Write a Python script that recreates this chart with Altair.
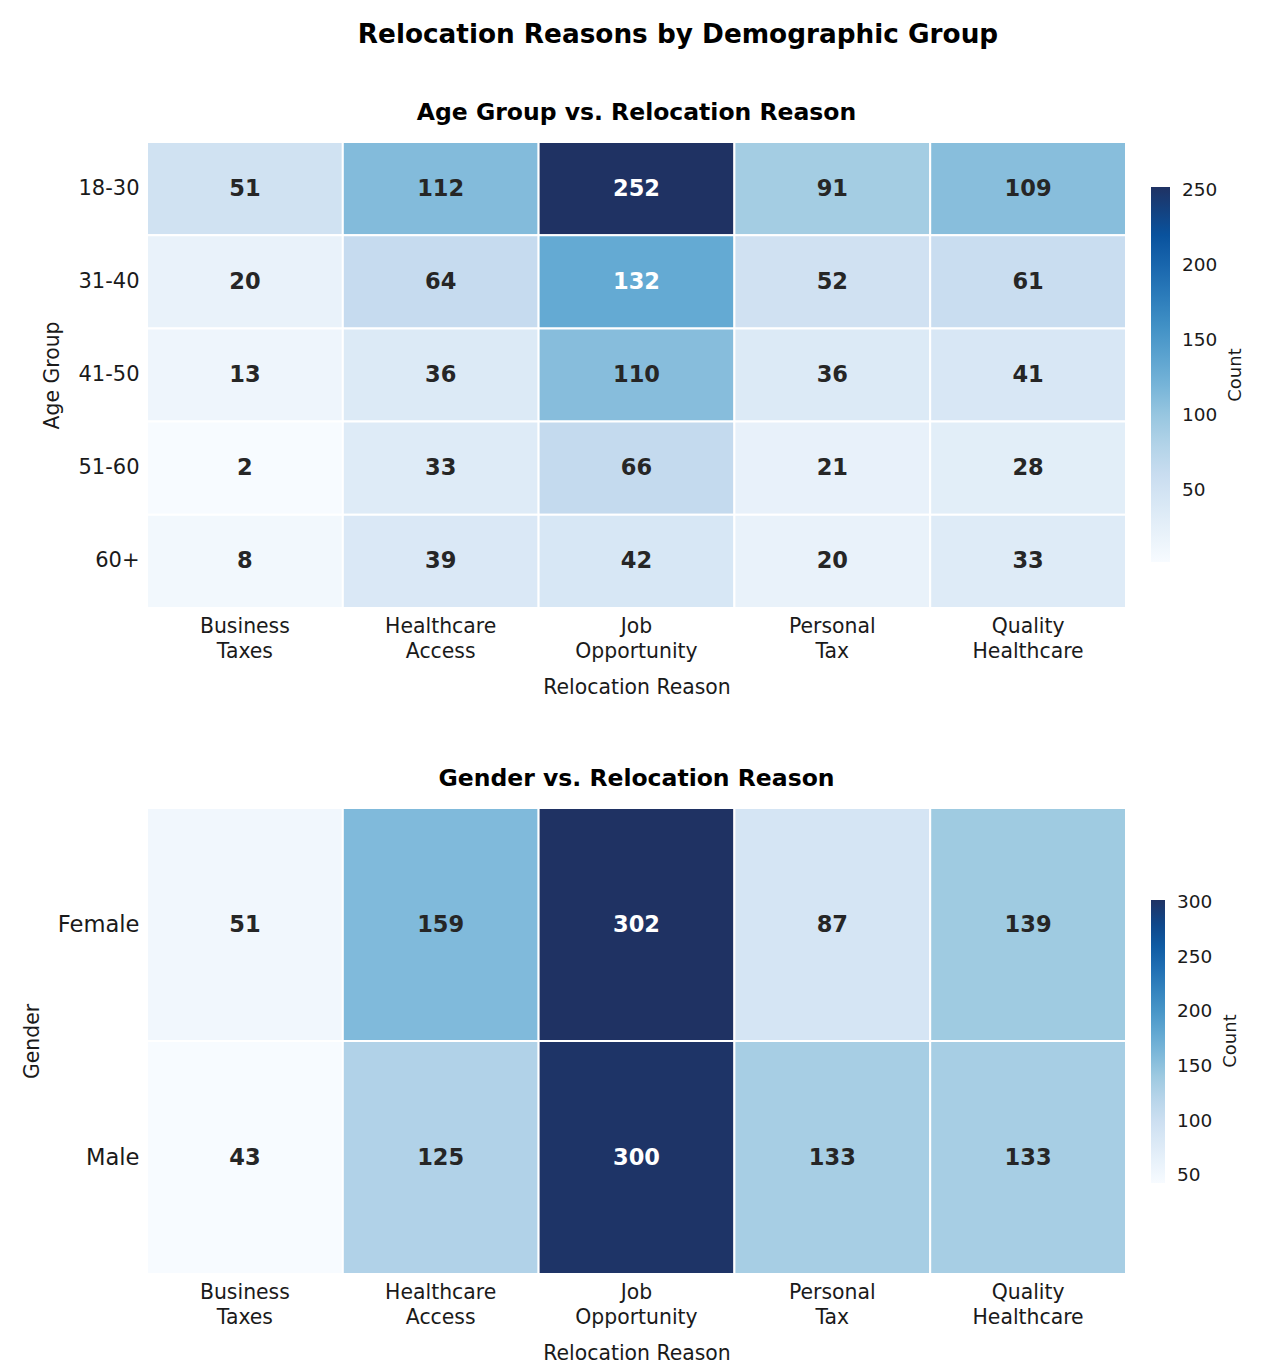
import altair as alt
import pandas as pd

# ---- data ----
reasons = ["Business Taxes", "Healthcare Access", "Job Opportunity", "Personal Tax", "Quality Healthcare"]
age_groups = ["18-30", "31-40", "41-50", "51-60", "60+"]
age_counts = [
    [51, 112, 252, 91, 109],
    [20, 64, 132, 52, 61],
    [13, 36, 110, 36, 41],
    [2, 33, 66, 21, 28],
    [8, 39, 42, 20, 33],
]
genders = ["Female", "Male"]
gender_counts = [
    [51, 159, 302, 87, 139],
    [43, 125, 300, 133, 133],
]
age_ticks = [50, 100, 150, 200, 250]
gender_ticks = [50, 100, 150, 200, 250, 300]

# colormap (Blues-like, navy top)
STOPS = [0, 0.125, 0.25, 0.375, 0.5, 0.625, 0.75, 0.875, 1.0]
COLORS = ["#f7fbff", "#deebf7", "#c6dbef", "#9ecae1", "#6baed6",
          "#4292c6", "#2171b5", "#08519c", "#1f3263"]

FONT = "DejaVu Sans"
W, H = 979, 466


def to_long(rows, counts, field):
    recs = []
    for r, vals in zip(rows, counts):
        for reason, v in zip(reasons, vals):
            recs.append({field: r, "reason": reason, "count": v})
    return pd.DataFrame(recs)


def heatmap(df, field, rows, ytitle, title, ticks, thr, glen, gthick, gy, ytx, cx, ylab_size):
    vals = df["count"]
    vmin, vmax = float(vals.min()), float(vals.max())
    domain = [vmin + t * (vmax - vmin) for t in STOPS]
    x = alt.X("reason:N", sort=reasons, title="Relocation Reason",
              axis=alt.Axis(labelAngle=0, labelExpr="split(datum.label, ' ')",
                            labelLineHeight=25, labelPadding=8, titlePadding=16,
                            domain=False, ticks=False, labelFontSize=20.4,
                            titleFontSize=20.4, labelColor="#1a1a1a",
                            titleColor="#1a1a1a", titleFontWeight="normal"))
    y = alt.Y(f"{field}:N", sort=rows, title=ytitle,
              axis=alt.Axis(domain=False, ticks=False, labelPadding=8,
                            labelFontSize=ylab_size, titleFontSize=20.4,
                            labelColor="#1a1a1a", titleColor="#1a1a1a",
                            titleFontWeight="normal", titleX=ytx, titleY=H / 2,
                            titleAlign="center", titleBaseline="middle", titleAngle=-90))
    color = alt.Color(
        "count:Q",
        scale=alt.Scale(domain=domain, range=COLORS, interpolate="rgb"),
        legend=alt.Legend(orient="none", legendX=1004, legendY=gy, direction="vertical",
                          gradientLength=glen, gradientThickness=gthick, title=None,
                          values=ticks, labelFontSize=18.5, labelOffset=12,
                          labelColor="#1a1a1a", padding=0, gradientStrokeWidth=0,
                          format="d", labelFont=FONT),
    )
    base = alt.Chart(df)
    rect = base.mark_rect(stroke="white", strokeWidth=2).encode(x=x, y=y, color=color)
    txt = base.mark_text(fontSize=22.5, fontWeight="bold", font=FONT).encode(
        x=alt.X("reason:N", sort=reasons),
        y=alt.Y(f"{field}:N", sort=rows),
        text="count:Q",
        color=alt.when(alt.datum["count"] >= thr).then(alt.value("white")).otherwise(alt.value("#262626")),
    )
    cnt = alt.Chart(pd.DataFrame({"t": ["Count"]})).mark_text(
        angle=270, fontSize=18, font=FONT, color="#1a1a1a", baseline="middle", align="center"
    ).encode(x=alt.value(cx), y=alt.value(H / 2), text="t:N")
    return alt.layer(rect, txt, cnt).properties(
        width=W, height=H,
        title=alt.TitleParams(title, fontSize=23.5, fontWeight="bold", font=FONT,
                              anchor="middle", frame="group", offset=17, color="black"),
    )


age_df = to_long(age_groups, age_counts, "age")
gen_df = to_long(genders, gender_counts, "gender")

top = heatmap(age_df, "age", age_groups, "Age Group", "Age Group vs. Relocation Reason",
              age_ticks, 120, 375, 19, 45, -95, 1089, 21)
bottom = heatmap(gen_df, "gender", genders, "Gender", "Gender vs. Relocation Reason",
                 gender_ticks, 175, 283, 14, 92, -115, 1084, 22.6)

chart = alt.vconcat(top, bottom, spacing=68).resolve_scale(color="independent").properties(
    title=alt.TitleParams("Relocation Reasons by Demographic Group", fontSize=26.3,
                          fontWeight="bold", font=FONT, anchor="middle", dx=44.5,
                          offset=52, color="black"),
    padding={"left": 22, "top": 22, "right": 10, "bottom": 5},
).configure(font=FONT).configure_view(stroke=None)

chart.save("out.html", embed_options={"renderer": "svg", "actions": False})
